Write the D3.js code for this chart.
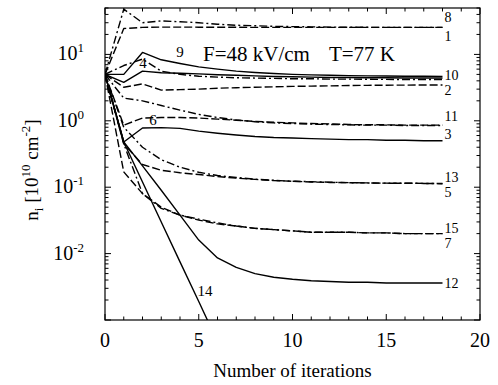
<!DOCTYPE html>
<html>
<head>
<meta charset="utf-8">
<script src="https://cdn.jsdelivr.net/npm/d3@7/dist/d3.min.js"></script>
<style>
  body { margin: 0; background: #fff; }
  svg { display: block; }
  text { font-family: "Liberation Serif", "Times New Roman", serif; fill: #000; }
</style>
</head>
<body>
<svg id="chart" width="498" height="385"></svg>
<script>
// Iteration index shared by every series
const iterations = [0, 1, 2, 3, 4, 5, 6, 7, 8, 9, 10, 11, 12, 13, 14, 15, 16, 17, 18];
const iterations14 = [0, 1, 2, 3, 4, 5, 6];

// Subband populations n_i (10^10 cm^-2) after each iteration
const n1  = [5, 48, 30, 32, 31, 30, 28.5, 27.5, 27, 26.5, 26.2, 26, 25.8, 25.7, 25.6, 25.5, 25.5, 25.5, 25.5];
const n8  = [5, 24.5, 25.5, 25.8, 25.8, 25.7, 25.6, 25.6, 25.5, 25.5, 25.5, 25.5, 25.5, 25.5, 25.5, 25.5, 25.5, 25.5, 25.5];
const n9  = [5, 5, 10.7, 8.3, 7.3, 6.5, 6.0, 5.6, 5.35, 5.15, 5.0, 4.92, 4.85, 4.8, 4.75, 4.72, 4.7, 4.68, 4.67];
const n4  = [5, 3.8, 5.6, 5.3, 5.2, 5.1, 4.95, 4.85, 4.75, 4.65, 4.6, 4.55, 4.5, 4.5, 4.45, 4.45, 4.42, 4.42, 4.42];
const n10 = [5, 6.8, 8.5, 5.6, 5.0, 4.7, 4.55, 4.45, 4.4, 4.35, 4.3, 4.3, 4.25, 4.25, 4.22, 4.2, 4.2, 4.2, 4.2];
const n2  = [5, 3.2, 3.6, 2.9, 2.95, 3.0, 3.1, 3.15, 3.2, 3.25, 3.3, 3.33, 3.36, 3.4, 3.42, 3.44, 3.45, 3.46, 3.47];
const n11 = [5, 2.2, 2.0, 1.7, 1.45, 1.25, 1.12, 1.03, 0.97, 0.93, 0.91, 0.89, 0.88, 0.87, 0.86, 0.86, 0.85, 0.85, 0.85];
const n6  = [5, 0.86, 1.1, 1.12, 1.12, 1.1, 1.06, 1.02, 0.98, 0.95, 0.93, 0.91, 0.9, 0.88, 0.87, 0.87, 0.86, 0.86, 0.86];
const n3  = [5, 0.48, 0.78, 0.79, 0.77, 0.7, 0.65, 0.61, 0.58, 0.56, 0.55, 0.54, 0.53, 0.52, 0.52, 0.51, 0.51, 0.5, 0.5];
const n5  = [5, 0.8, 0.4, 0.26, 0.2, 0.168, 0.15, 0.14, 0.132, 0.127, 0.123, 0.121, 0.119, 0.117, 0.116, 0.115, 0.115, 0.114, 0.114];
const n13 = [5, 0.45, 0.22, 0.18, 0.165, 0.155, 0.145, 0.137, 0.131, 0.126, 0.123, 0.12, 0.118, 0.117, 0.116, 0.115, 0.115, 0.114, 0.113];
const n7  = [5, 0.45, 0.08, 0.048, 0.038, 0.033, 0.029, 0.026, 0.024, 0.023, 0.022, 0.021, 0.021, 0.021, 0.0205, 0.0205, 0.02, 0.02, 0.02];
const n15 = [5, 0.17, 0.08, 0.05, 0.038, 0.032, 0.028, 0.026, 0.024, 0.023, 0.022, 0.021, 0.021, 0.021, 0.0205, 0.0205, 0.02, 0.02, 0.02];
const n12 = [5, 0.48, 0.21, 0.09, 0.038, 0.016, 0.0086, 0.0062, 0.005, 0.0044, 0.0041, 0.0039, 0.0038, 0.0037, 0.0037, 0.0036, 0.0036, 0.0036, 0.0036];
const n14 = [5, 0.48, 0.12, 0.03, 0.0075, 0.0019, 0.00047];

// Axis ticks and labels
const xMajorTicks = [0, 5, 10, 15, 20];
const xMinorTicks = [1, 2, 3, 4, 6, 7, 8, 9, 11, 12, 13, 14, 16, 17, 18, 19];
const yDecadeExponents = [-2, -1, 0, 1];
const xTitle = "Number of iterations";
const fieldLabel = "F=48 kV/cm";
const tempLabel = "T=77 K";

const DASH = "8,3";
const DASHDOT = "8,3,2,3";

const series = [
  { name: "1",  x: iterations, v: n1,  dash: DASHDOT },
  { name: "8",  x: iterations, v: n8,  dash: DASH },
  { name: "9",  x: iterations, v: n9,  dash: null },
  { name: "4",  x: iterations, v: n4,  dash: null },
  { name: "10", x: iterations, v: n10, dash: DASHDOT },
  { name: "2",  x: iterations, v: n2,  dash: DASH },
  { name: "11", x: iterations, v: n11, dash: DASHDOT },
  { name: "6",  x: iterations, v: n6,  dash: DASH },
  { name: "3",  x: iterations, v: n3,  dash: null },
  { name: "5",  x: iterations, v: n5,  dash: DASHDOT },
  { name: "13", x: iterations, v: n13, dash: DASH },
  { name: "7",  x: iterations, v: n7,  dash: DASHDOT },
  { name: "15", x: iterations, v: n15, dash: DASH },
  { name: "12", x: iterations, v: n12, dash: null },
  { name: "14", x: iterations14, v: n14, dash: null }
];

// Labels at the right end of the curves: [text, series, vertical offset in px]
const endLabels = [
  ["8", n8, -10], ["1", n1, 9],
  ["10", n10, -4], ["2", n2, 5],
  ["11", n11, -9], ["3", n3, -7],
  ["13", n13, -7], ["5", n5, 9],
  ["15", n15, -6], ["7", n7, 9],
  ["12", n12, 0]
];
// Labels inside the plot: [text, iteration, n]
const innerLabels = [["9", 4.0, 10.9], ["4", 2.03, 7.4], ["6", 2.56, 1.03], ["14", 5.33, 0.0028]];

const svg = d3.select("#chart");
const W = 498, H = 385;
const m = { left: 105, right: 18, top: 8, bottom: 65 };
const x = d3.scaleLinear().domain([0, 20]).range([m.left, W - m.right]);
const y = d3.scaleLog().domain([1e-3, 50]).range([H - m.bottom, m.top]);
const x0 = x.range()[0], x1 = x.range()[1], y0 = y.range()[0], y1 = y.range()[1];

svg.append("rect").attr("width", W).attr("height", H).attr("fill", "#fff");

svg.append("clipPath").attr("id", "plot")
  .append("rect").attr("x", x0).attr("y", y1).attr("width", x1 - x0).attr("height", y0 - y1);

// Curves
const line = d3.line().x(d => x(d[0])).y(d => y(d[1]));
const g = svg.append("g").attr("clip-path", "url(#plot)");
series.forEach(s => {
  g.append("path")
    .datum(s.x.map((xi, i) => [xi, s.v[i]]))
    .attr("d", line)
    .attr("fill", "none")
    .attr("stroke", "#000")
    .attr("stroke-width", 1.4)
    .attr("stroke-linejoin", "round")
    .attr("stroke-dasharray", s.dash);
});

// Frame
svg.append("rect").attr("x", x0).attr("y", y1).attr("width", x1 - x0).attr("height", y0 - y1)
  .attr("fill", "none").attr("stroke", "#000").attr("stroke-width", 1.2);

// Inward ticks on all four sides
const tickG = svg.append("g").attr("stroke", "#000").attr("stroke-width", 1);
function xTick(v, len) {
  tickG.append("line").attr("x1", x(v)).attr("x2", x(v)).attr("y1", y0).attr("y2", y0 - len);
  tickG.append("line").attr("x1", x(v)).attr("x2", x(v)).attr("y1", y1).attr("y2", y1 + len);
}
function yTick(v, len) {
  tickG.append("line").attr("y1", y(v)).attr("y2", y(v)).attr("x1", x0).attr("x2", x0 + len);
  tickG.append("line").attr("y1", y(v)).attr("y2", y(v)).attr("x1", x1).attr("x2", x1 - len);
}
xMajorTicks.forEach(v => xTick(v, 6));
xMinorTicks.forEach(v => xTick(v, 3.5));
y.ticks().forEach(v => {
  const e = Math.log10(v);
  const isDecade = Math.abs(e - Math.round(e)) < 1e-9;
  yTick(v, isDecade ? 6 : 3.5);
});

// X tick labels
svg.append("g").selectAll("text").data(xMajorTicks).join("text")
  .attr("x", d => x(d)).attr("y", y0 + 27)
  .attr("text-anchor", "middle").attr("font-size", 20)
  .text(d => d);

// Y tick labels as powers of ten
const yl = svg.append("g").selectAll("text").data(yDecadeExponents).join("text")
  .attr("x", 84).attr("y", d => y(Math.pow(10, d)) + 6)
  .attr("text-anchor", "end").attr("font-size", 20);
yl.append("tspan").text("10");
yl.append("tspan").attr("font-size", 13).attr("dy", -8).text(d => d < 0 ? "-" + (-d) : String(d));

// Axis titles
svg.append("text").attr("x", (x0 + x1) / 2).attr("y", H - 8)
  .attr("text-anchor", "middle").attr("font-size", 19).text(xTitle);

const yt = svg.append("text")
  .attr("transform", `translate(38,${(y0 + y1) / 2 + 6}) rotate(-90)`)
  .attr("text-anchor", "middle").attr("font-size", 19);
yt.append("tspan").text("n");
yt.append("tspan").attr("font-size", 13).attr("dy", 5).text("i");
yt.append("tspan").attr("dy", -5).text(" [10");
yt.append("tspan").attr("font-size", 13).attr("dy", -8).text("10");
yt.append("tspan").attr("dy", 8).text(" cm");
yt.append("tspan").attr("font-size", 13).attr("dy", -8).text("-2");
yt.append("tspan").attr("dy", 8).text("]");

// Field and temperature annotation
svg.append("text").attr("x", 203).attr("y", 61).attr("font-size", 21).text(fieldLabel);
svg.append("text").attr("x", 395).attr("y", 61).attr("text-anchor", "end").attr("font-size", 21).text(tempLabel);

// Curve labels
svg.append("g").selectAll("text").data(endLabels).join("text")
  .attr("x", x(18) + 2)
  .attr("y", d => y(d[1][d[1].length - 1]) + d[2])
  .attr("dy", "0.35em").attr("font-size", 14)
  .text(d => d[0]);
svg.append("g").selectAll("text").data(innerLabels).join("text")
  .attr("x", d => x(d[1])).attr("y", d => y(d[2]))
  .attr("dy", "0.35em").attr("text-anchor", "middle").attr("font-size", 15)
  .text(d => d[0]);
</script>
</body>
</html>
